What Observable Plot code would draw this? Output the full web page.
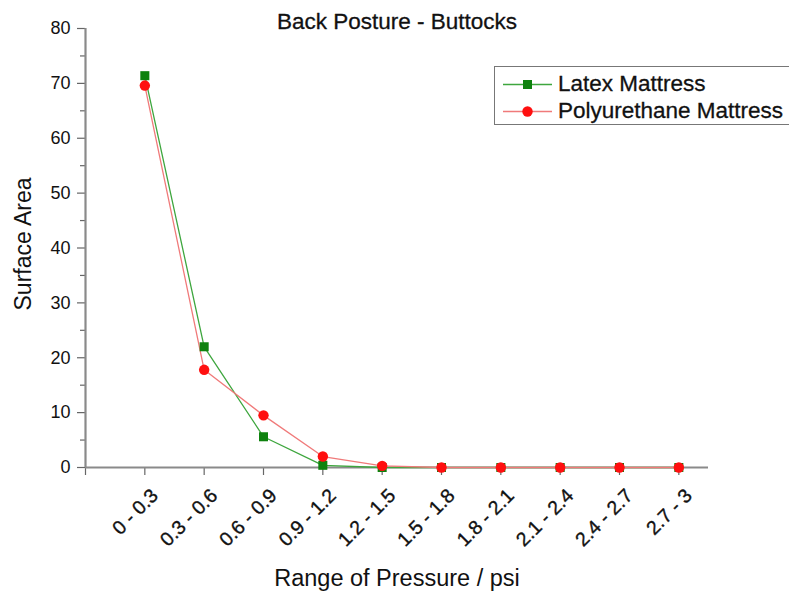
<!DOCTYPE html>
<html>
<head>
<meta charset="utf-8">
<script src="https://cdn.jsdelivr.net/npm/d3@7"></script>
<script src="https://cdn.jsdelivr.net/npm/@observablehq/plot@0.6"></script>
<style>
  html, body { margin: 0; padding: 0; background: #fff; overflow: hidden; }
  #wrap { position: relative; width: 789px; height: 597px; }
  #legend { position: absolute; left: 494px; top: 66px; width: 310px; height: 59px;
    border: 1.5px solid #777; background: #fff; box-sizing: border-box;
    font-family: "Liberation Sans", Arial, sans-serif; font-size: 22.5px; color: #111;
    -webkit-text-stroke: 0.3px #111; }
  .row { position: absolute; left: 7px; height: 26px; display: flex; align-items: center; white-space: nowrap; }
  .row svg { margin-right: 6px; }
</style>
</head>
<body>
<div id="wrap"></div>
<script>
const title = "Back Posture - Buttocks";
const xLabel = "Range of Pressure / psi";
const yLabel = "Surface Area";
const categories = ["0 - 0.3","0.3 - 0.6","0.6 - 0.9","0.9 - 1.2","1.2 - 1.5","1.5 - 1.8","1.8 - 2.1","2.1 - 2.4","2.4 - 2.7","2.7 - 3"];
const latex = [71.4, 22.0, 5.6, 0.4, 0, 0, 0, 0, 0, 0];
const polyurethane = [69.6, 17.8, 9.5, 2.0, 0.3, 0, 0, 0, 0, 0];
const seriesNames = ["Latex Mattress", "Polyurethane Mattress"];
const yMajor = d3.range(0, 81, 10);
const yMinor = d3.range(5, 80, 10);

const latexData = categories.map((c, i) => ({i: i + 1, v: latex[i]}));
const polyData = categories.map((c, i) => ({i: i + 1, v: polyurethane[i]}));
const labelData = categories.map((c, i) => ({i: i + 1, label: c}));

const GREEN_LINE = "#3ea63e", GREEN = "#0e820e", RED_LINE = "#f07a7a", RED = "#ff0f0f", AXIS = "#8a8a8a";
const FONT = "Liberation Sans, Arial, sans-serif";
const INK = "#111";

const chart = Plot.plot({
  width: 789,
  height: 597,
  marginLeft: 85,
  marginRight: 81,
  marginTop: 28,
  marginBottom: 130,
  style: {fontFamily: FONT, color: INK, background: "#fff"},
  x: {domain: [0, 10.5]},
  y: {domain: [0, 80]},
  marks: [
    Plot.axisY({ticks: yMinor, tickSize: 5, tickFormat: () => "", stroke: "#666", strokeWidth: 1.2, label: null}),
    Plot.axisY({ticks: yMajor, tickSize: 8, tickPadding: 7, fontSize: 18, stroke: "#666", strokeWidth: 1.2, label: null}),
    Plot.axisX({ticks: d3.range(0, 11), tickSize: 8, tickFormat: () => "", stroke: "#666", strokeWidth: 1.2, label: null}),
    Plot.text(labelData, {x: "i", text: "label", frameAnchor: "bottom", rotate: -45, textAnchor: "end",
      lineAnchor: "middle", dx: 10, dy: 25, fontSize: 19.5, fill: INK, stroke: INK, strokeWidth: 0.35}),
    Plot.ruleX([0], {stroke: AXIS, strokeWidth: 2.2}),
    Plot.ruleY([0], {stroke: AXIS, strokeWidth: 2.2}),
    Plot.line(latexData, {x: "i", y: "v", stroke: GREEN_LINE, strokeWidth: 1.3}),
    Plot.line(polyData, {x: "i", y: "v", stroke: RED_LINE, strokeWidth: 1.3}),
    Plot.dot(latexData, {x: "i", y: "v", symbol: "square", r: 5.1, fill: GREEN, stroke: "none"}),
    Plot.dot(polyData, {x: "i", y: "v", symbol: "circle", r: 5.2, fill: RED, stroke: "none"}),
    Plot.text([title], {frameAnchor: "top", dy: -7, textAnchor: "middle", lineAnchor: "middle", fontSize: 22.5, fill: INK, stroke: INK, strokeWidth: 0.3}),
    Plot.text([xLabel], {frameAnchor: "bottom", dy: 111, textAnchor: "middle", lineAnchor: "middle", fontSize: 23.5, fill: INK}),
    Plot.text([yLabel], {frameAnchor: "left", dx: -62, dy: -4, rotate: -90, textAnchor: "middle", lineAnchor: "middle", fontSize: 23, fill: INK})
  ]
});
const wrap = document.getElementById("wrap");
wrap.appendChild(chart);

const legend = document.createElement("div");
legend.id = "legend";
const rows = [
  {name: seriesNames[0], line: GREEN_LINE, fill: GREEN, shape: "square", top: 4},
  {name: seriesNames[1], line: RED_LINE, fill: RED, shape: "circle", top: 31}
];
for (const r of rows) {
  const row = document.createElement("div");
  row.className = "row";
  row.style.top = r.top + "px";
  const m = r.shape === "square"
    ? `<rect x="21" y="8" width="9" height="9" fill="${r.fill}"/>`
    : `<circle cx="25.5" cy="12.5" r="5.2" fill="${r.fill}"/>`;
  row.innerHTML = `<svg width="50" height="25"><line x1="1" x2="50" y1="12.5" y2="12.5" stroke="${r.line}" stroke-width="1.5"/>${m}</svg><span>${r.name}</span>`;
  legend.appendChild(row);
}
wrap.appendChild(legend);
</script>
</body>
</html>
